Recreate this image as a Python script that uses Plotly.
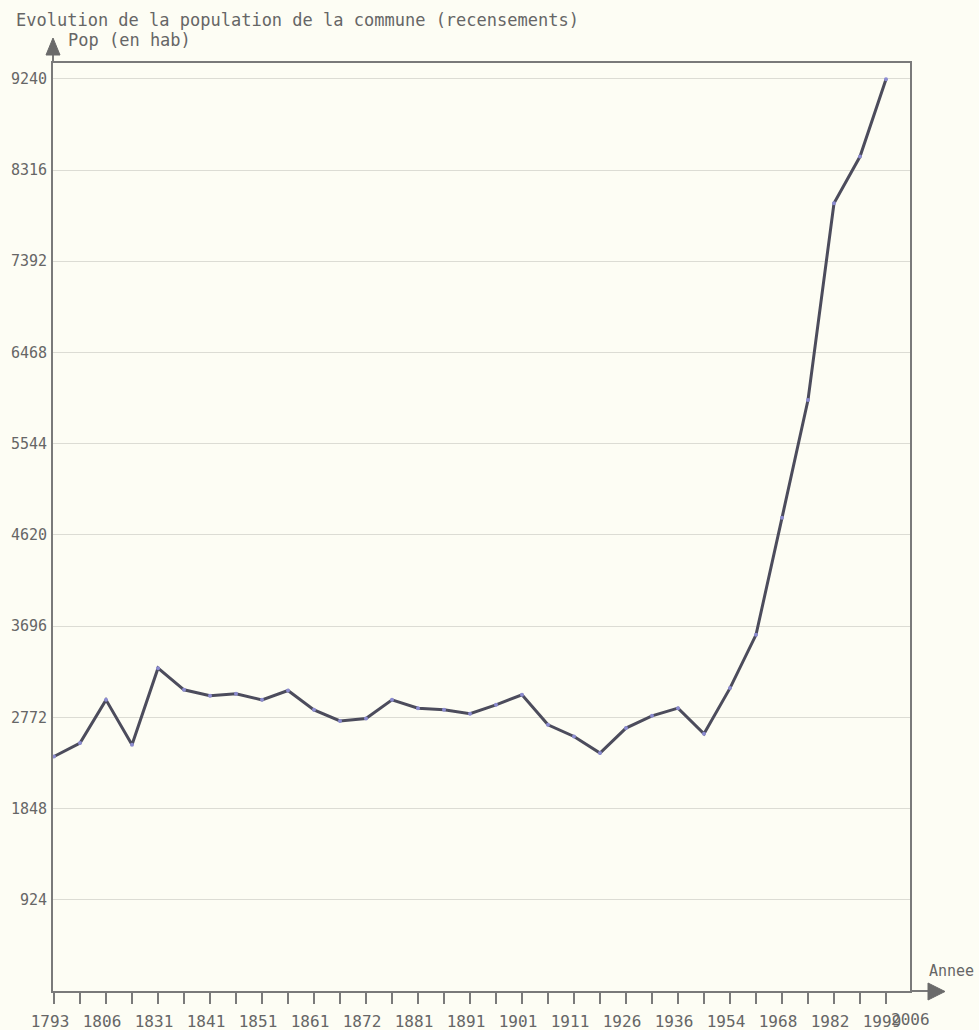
import plotly.graph_objects as go

years = ["1793", "1800", "1806", "1821", "1831", "1836", "1841", "1846", "1851", "1856",
         "1861", "1866", "1872", "1876", "1881", "1886", "1891", "1896", "1901", "1906",
         "1911", "1921", "1926", "1931", "1936", "1946", "1954", "1962", "1968", "1975",
         "1982", "1990", "1999"]
population = [2375, 2511, 2949, 2494, 3270, 3051, 2990, 3010, 2949, 3044,
              2848, 2735, 2760, 2949, 2865, 2848, 2808, 2899, 3000, 2696,
              2578, 2410, 2663, 2787, 2865, 2605, 3068, 3608, 4793, 5986,
              7979, 8452, 9236]
last_label = "2006"
y_ticks = [924, 1848, 2772, 3696, 4620, 5544, 6468, 7392, 8316, 9240]

title_text = "Evolution de la population de la commune (recensements)"
y_title = "Pop (en hab)"
x_title = "Annee"

BG = "#fdfdf4"
AXIS = "#7a7a7a"
TXT = "#666666"
MONO = "DejaVu Sans Mono"

idx = list(range(len(years)))
ticktext = [y if i % 2 == 0 else "" for i, y in enumerate(years)]

fig = go.Figure()
fig.add_trace(go.Scatter(
    x=idx, y=population, mode="lines+markers",
    line=dict(color="#4c4c5c", width=3),
    marker=dict(color="#8c8cd0", size=4, symbol="circle"),
    hoverinfo="skip", showlegend=False,
))

W, H = 979, 1030
L, R, T, B = 53, 979 - 910, 63, 1030 - 991
pw, ph = W - L - R, H - T - B

def px(xp):
    return (xp - L) / pw

def py(yp):
    return (H - B - yp) / ph

fig.update_layout(
    width=W, height=H,
    margin=dict(l=L, r=R, t=T, b=B, pad=0, autoexpand=False),
    paper_bgcolor=BG, plot_bgcolor=BG,
    font=dict(family=MONO, color=TXT, size=13),
    xaxis=dict(
        range=[-1 / 26, 857 / 26 - 1 / 26], automargin=False,
        tickmode="array", tickvals=idx, ticktext=ticktext,
        ticks="outside", ticklen=11, tickwidth=1.5, tickcolor=AXIS,
        showgrid=False, zeroline=False,
        showline=True, linecolor=AXIS, linewidth=2, mirror=True,
        tickfont=dict(family=MONO, size=16, color=TXT),
        ticklabelshift=-4, ticklabelstandoff=4,
    ),
    yaxis=dict(
        range=[0, 9400], automargin=False,
        tickmode="array", tickvals=y_ticks, ticktext=[str(v) for v in y_ticks],
        ticks="", showgrid=True, gridcolor="#dcdcd4", gridwidth=1,
        zeroline=False, showline=True, linecolor=AXIS, linewidth=2, mirror=True,
        tickfont=dict(family=MONO, size=15, color=TXT),
        ticklabelstandoff=1,
    ),
    shapes=[
        dict(type="line", xref="paper", yref="paper", x0=0, x1=0, y0=1, y1=py(50),
             line=dict(color=AXIS, width=2)),
        dict(type="path", xref="paper", yref="paper",
             path=f"M {px(46)} {py(55)} L {px(60)} {py(55)} L {px(53)} {py(38)} Z",
             fillcolor="#6a6a6a", line=dict(color="#6a6a6a", width=1)),
        dict(type="line", xref="paper", yref="paper", x0=1, x1=px(932), y0=0, y1=0,
             line=dict(color=AXIS, width=2)),
        dict(type="path", xref="paper", yref="paper",
             path=f"M {px(928)} {py(983)} L {px(928)} {py(1000)} L {px(945)} {py(991.5)} Z",
             fillcolor="#6a6a6a", line=dict(color="#6a6a6a", width=1)),
    ],
    annotations=[
        dict(text=title_text, xref="paper", yref="paper", x=px(14), y=py(20),
             xanchor="left", yanchor="middle", showarrow=False,
             font=dict(family=MONO, size=17, color=TXT)),
        dict(text=y_title, xref="paper", yref="paper", x=px(66), y=py(40),
             xanchor="left", yanchor="middle", showarrow=False,
             font=dict(family=MONO, size=17, color=TXT)),
        dict(text=x_title, xref="paper", yref="paper", x=px(927), y=py(971),
             xanchor="left", yanchor="middle", showarrow=False,
             font=dict(family=MONO, size=15, color=TXT)),
        dict(text=last_label, xref="paper", yref="paper", x=1, y=py(1019),
             xanchor="center", yanchor="middle", showarrow=False,
             font=dict(family=MONO, size=16, color=TXT)),
    ],
)

fig.write_html("out.html", config={"displayModeBar": False},
               post_script="document.body.style.margin='0';")
